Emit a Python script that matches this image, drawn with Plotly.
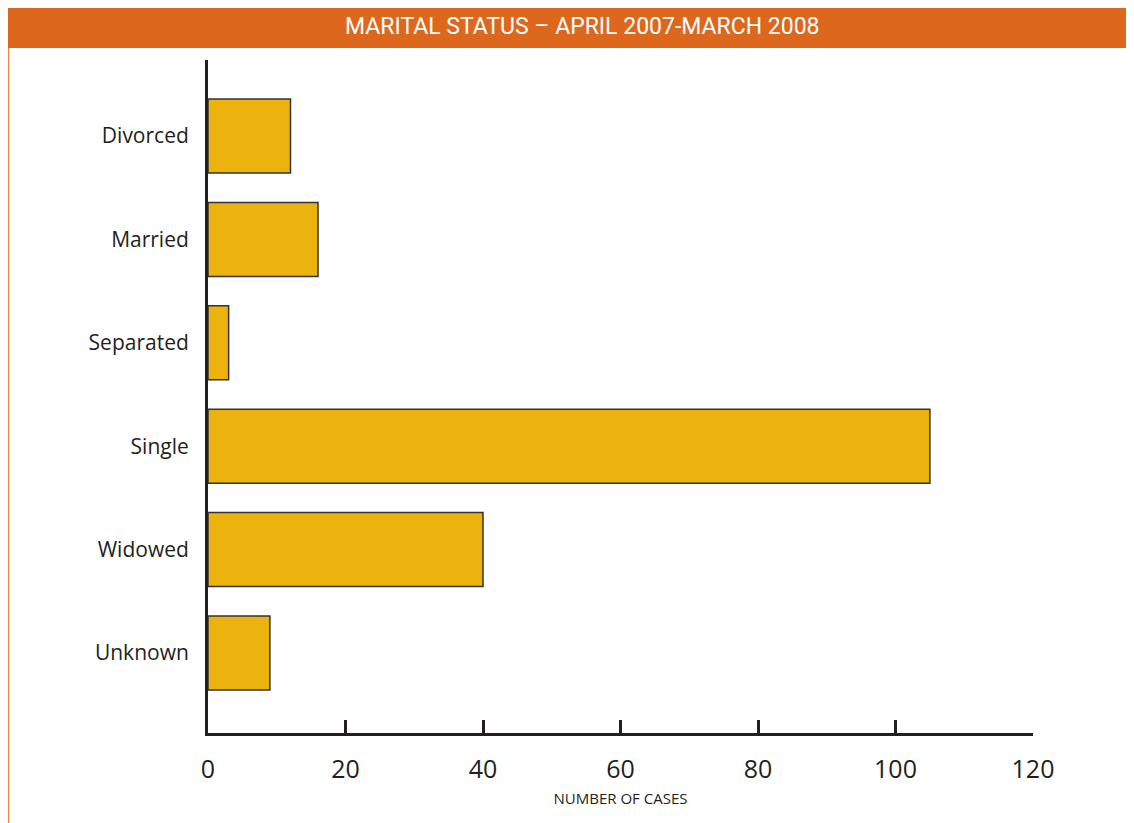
import plotly.graph_objects as go

# data
categories = ["Divorced", "Married", "Separated", "Single", "Widowed", "Unknown"]
cases = [12, 16, 3, 105, 40, 9]
x_ticks = [0, 20, 40, 60, 80, 100, 120]

# the page adds an 8px body margin, so the figure is laid out 8px smaller
OFF = 8
W, H = 1134 - OFF, 823 - OFF
L, R, T, B = 208 - OFF, 101, 60 - OFF, 90
pw, ph = W - L - R, H - T - B


def px(x):
    return (x - OFF - L) / pw


def py(y):
    return (H - B - (y - OFF)) / ph


ORANGE = "#DD681D"
font = "Open Sans, Noto Sans, sans-serif"

fig = go.Figure()
fig.add_trace(go.Bar(
    x=cases, y=categories, orientation="h",
    marker=dict(color="#ECB30F", line=dict(color="#333333", width=1.5)),
    width=0.716, hoverinfo="x+y",
))

fig.update_layout(
    width=W, height=H,
    margin=dict(l=L, r=R, t=T, b=B),
    plot_bgcolor="white", paper_bgcolor="white",
    showlegend=False,
    font=dict(family=font, color="#231F20"),
    xaxis=dict(
        range=[0, 120], tickvals=x_ticks, ticks="inside", ticklen=13,
        tickwidth=2.5, tickcolor="#231F20", showline=True, linewidth=3,
        linecolor="#231F20", showgrid=False, zeroline=False,
        tickfont=dict(size=25), ticklabelstandoff=12,
        title=dict(text="NUMBER OF CASES", font=dict(size=15), standoff=10),
    ),
    yaxis=dict(
        categoryorder="array", categoryarray=categories,
        range=[5.774, -0.735], showline=True, linewidth=3, linecolor="#231F20",
        showgrid=False, zeroline=False, ticks="", tickfont=dict(size=21),
        ticklabelstandoff=12,
    ),
    shapes=[
        dict(type="rect", xref="paper", yref="paper", x0=px(6), x1=px(1140),
             y0=py(48), y1=py(6), fillcolor=ORANGE, line=dict(width=0), layer="above"),
        dict(type="line", xref="paper", yref="paper", x0=px(8.5), x1=px(8.5),
             y0=py(48), y1=py(830), line=dict(color="#E8883F", width=1.5)),
    ],
    annotations=[
        dict(text="MARITAL STATUS – APRIL 2007-MARCH 2008", xref="paper", yref="paper",
             x=px(582), y=py(27), xanchor="center", yanchor="middle", showarrow=False,
             font=dict(size=23, color="white", family="Roboto, sans-serif")),
    ],
)

fig.write_html("out.html")
